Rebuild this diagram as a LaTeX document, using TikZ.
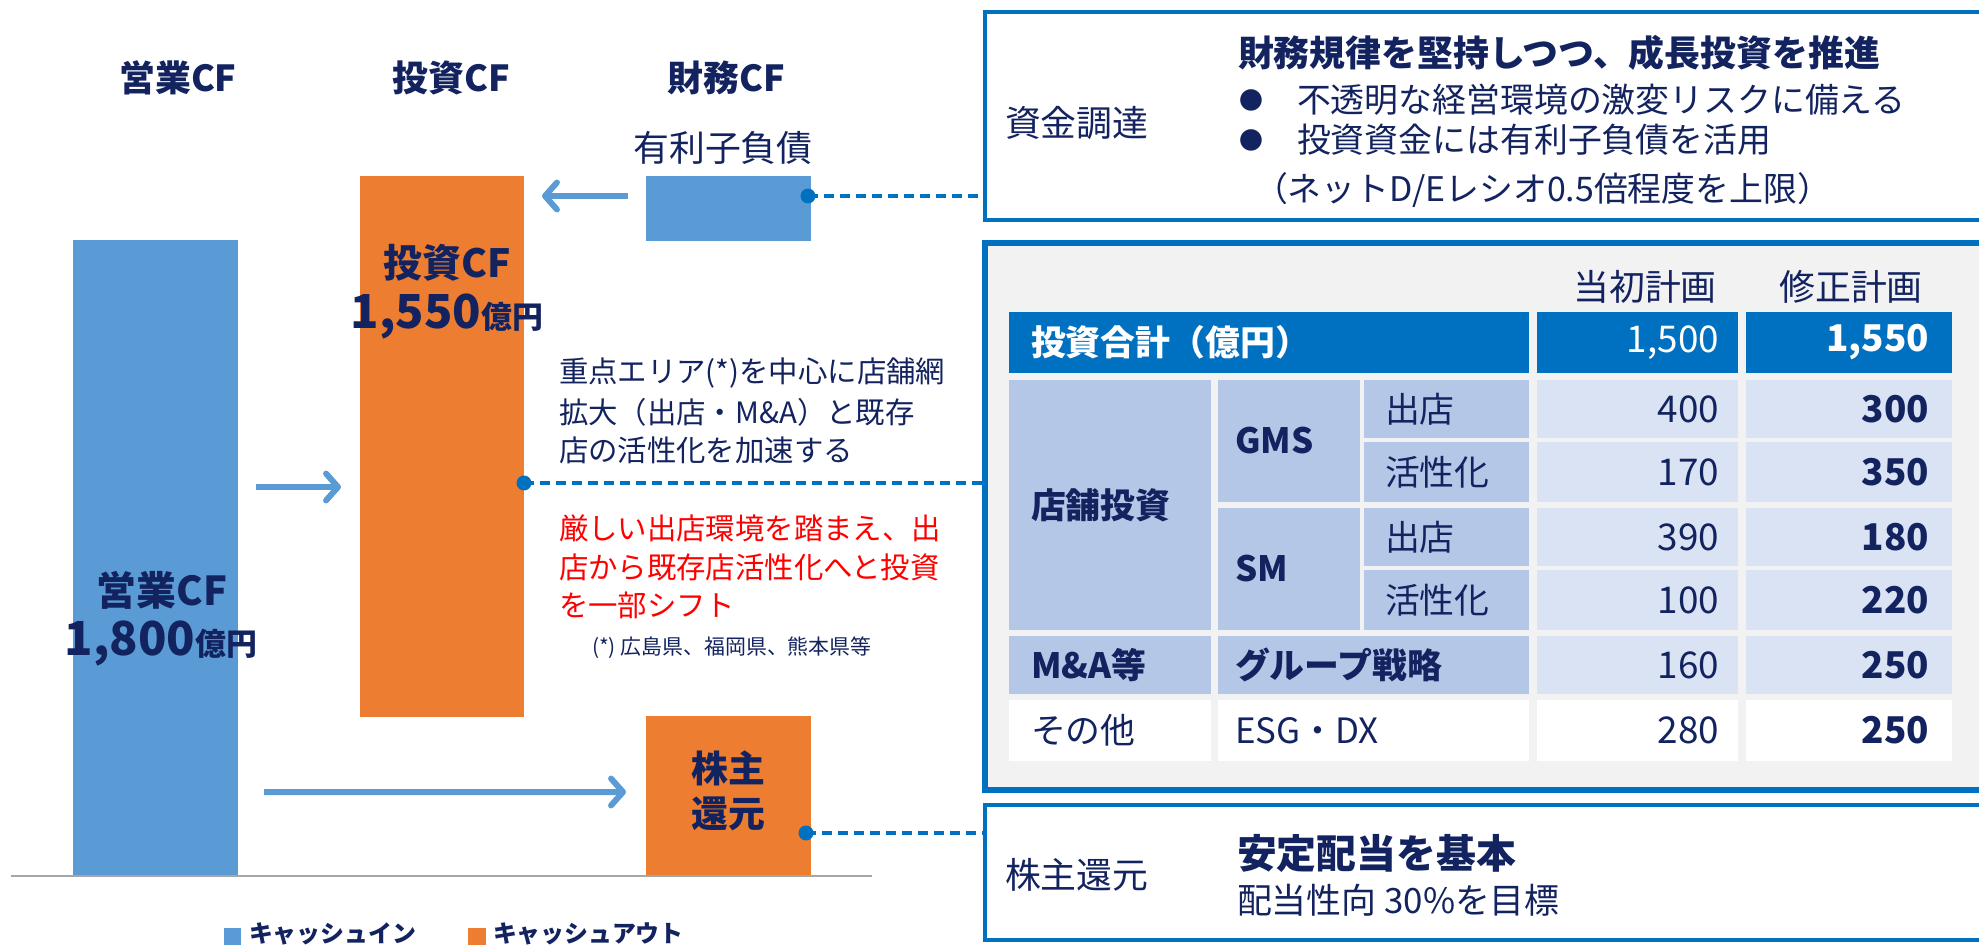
\documentclass[tikz,border=0pt]{standalone}
\usepackage{fontspec}
\setmainfont{Noto Sans CJK JP}
\usetikzlibrary{arrows.meta,calc}
\definecolor{barblue}{HTML}{5B9BD5}
\definecolor{barorange}{HTML}{ED7D31}
\definecolor{navy}{HTML}{13235F}
\definecolor{linkblue}{HTML}{0070C0}
\definecolor{cellA}{HTML}{B4C7E7}
\definecolor{cellV}{HTML}{DAE3F3}
\definecolor{bgray}{HTML}{F2F2F2}
\definecolor{axisgray}{HTML}{A6A6A6}
\definecolor{alert}{HTML}{FF0000}
\newcommand\fsz[1]{\fontsize{#1}{#1}\selectfont}
\begin{document}
\begin{tikzpicture}[x=1bp,y=-1bp,
  every node/.style={inner sep=0pt,outer sep=0pt,text=navy},
  bar/.style={draw=none,anchor=north west,minimum width=165bp},
  flow/.style={draw=barblue,line width=6pt,-{Straight Barb[length=12pt,width=27pt,round]}},
  link/.style={draw=linkblue,line width=4.2pt,dash pattern=on 10bp off 6bp},
  panel/.style={draw=linkblue,line width=4pt,anchor=north west,minimum width=1010bp},
  hdr/.style={font=\fsz{36}\bfseries},
  txt/.style={anchor=west},
  val/.style={anchor=east,font=\fsz{37}},
  valb/.style={anchor=east,font=\fsz{37}\bfseries},
  tl/.style={anchor=west,font=\fsz{35}},
  tlb/.style={anchor=west,font=\fsz{35}\bfseries}]
\useasboundingbox (0,0) rectangle (1979,945);
\clip (0,0) rectangle (1979,945);
\fill[white] (0,0) rectangle (1979,945);

% column headers
\node[hdr] (hop) at (178,78) {営業CF};
\node[hdr] (hinv) at (451,78) {投資CF};
\node[hdr] (hfin) at (726,78) {財務CF};
\node[font=\fsz{36}] (debtlbl) at (723,148) {有利子負債};

% bars
\node[bar,fill=barblue,minimum height=636bp] (op) at (73,240) {};
\node[bar,fill=barorange,minimum width=164bp,minimum height=541bp] (inv) at (360,176) {};
\node[bar,fill=barblue,minimum height=65bp] (debt) at (646,176) {};
\node[bar,fill=barorange,minimum height=160bp] (ret) at (646,716) {};
\draw[axisgray,line width=2.5pt] (11,876) -- (872,876);

% bar texts
\node[font=\fsz{39}\bfseries] (invt) at (447,263) {投資CF};
\node[font=\bfseries] (invv) at (447,316) {{\fsz{47}1,550}{\fsz{31}億円}};
\node[font=\fsz{40}\bfseries] (opt) at (162,590) {営業CF};
\node[font=\bfseries] (opv) at (161,643) {{\fsz{47}1,800}{\fsz{31}億円}};
\node[font=\fontsize{37}{45}\selectfont\bfseries,align=center] (rett) at (728,791) {株主\\還元};

% arrows
\draw[flow] ($(debt.north west)+(-18,20)$) -- ($(inv.north east)+(18,20)$);
\draw[flow] ($(op.north east)+(18,247)$) -- ($(inv.north west)+(-19,311)$);
\draw[flow] ($(op.south east)+(26,-84)$) -- ($(ret.west)+(-20,-4)$);

% middle texts
\node[txt,font=\fsz{29.5}] (m1) at (559,373) {重点エリア(*)を中心に店舗網};
\node[txt,font=\fsz{29.5}] (m2) at (559,412) {拡大（出店・M\&A）と既存};
\node[txt,font=\fsz{29.5}] (m3) at (559,450) {店の活性化を加速する};
\node[txt,font=\fsz{29.5},text=alert] (r1) at (559,528) {厳しい出店環境を踏まえ、出};
\node[txt,font=\fsz{29.5},text=alert] (r2) at (559,567) {店から既存店活性化へと投資};
\node[txt,font=\fsz{29.5},text=alert] (r3) at (559,605) {を一部シフト};
\node[txt,font=\fsz{21}] (note) at (592,648) {(*) 広島県、福岡県、熊本県等};

% legend
\fill[barblue] (224,928) rectangle (241,946);
\node[anchor=base west,font=\fsz{24}\bfseries] (lgin) at (249,942) {キャッシュイン};
\fill[barorange] (468,928) rectangle (486,946);
\node[anchor=base west,font=\fsz{24}\bfseries] (lgout) at (493,942) {キャッシュアウト};

% right panels
\node[panel,minimum height=208bp] (fund) at (985,12) {};
\node[panel,fill=bgray,line width=5.5pt,minimum height=547bp] (plan) at (985,243) {};
\node[panel,minimum height=135bp] (share) at (985,805) {};

% dashed links
\coordinate (d1) at ($(debt.north east)+(-3,20)$);
\coordinate (d2) at ($(inv.north east)+(0,307)$);
\coordinate (d3) at ($(ret.north east)+(-5,117)$);
\draw[link] (d1) -- (d1 -| fund.west);
\draw[link] (d2) -- (d2 -| plan.west);
\draw[link] (d3) -- (d3 -| share.west);
\fill[linkblue] (d1) circle[radius=7.5pt];
\fill[linkblue] (d2) circle[radius=7.5pt];
\fill[linkblue] (d3) circle[radius=7.5pt];

% funding panel
\node[txt,font=\fsz{36}] (fl) at (1005,123) {資金調達};
\node[txt,font=\fsz{36}\bfseries] (ft) at (1238,53) {財務規律を堅持しつつ、成長投資を推進};
\node[font=\fsz{24}] (b1) at (1251,100) {●};
\node[txt,font=\fsz{34}] (f1) at (1297,100) {不透明な経営環境の激変リスクに備える};
\node[font=\fsz{24}] (b2) at (1251,140) {●};
\node[txt,font=\fsz{34}] (f2) at (1297,140) {投資資金には有利子負債を活用};
\node[txt,font=\fsz{34}] (f3) at (1254,190) {（ネットD/Eレシオ0.5倍程度を上限）};

% table
\node[font=\fsz{36}] (c1) at (1645,287) {当初計画};
\node[font=\fsz{36}] (c2) at (1851,287) {修正計画};
\fill[linkblue] (1009,312) rectangle (1529,373);
\fill[linkblue] (1537,312) rectangle (1738,373);
\fill[linkblue] (1746,312) rectangle (1952,373);
\fill[cellA] (1009,380) rectangle (1211,630);
\fill[cellA] (1218,380) rectangle (1360,502);
\fill[cellA] (1218,508) rectangle (1360,630);
\foreach \ya/\yb in {380/438,442/502,508/566,570/630}{
  \fill[cellA] (1364,\ya) rectangle (1529,\yb);
  \fill[cellV] (1537,\ya) rectangle (1738,\yb);
  \fill[cellV] (1746,\ya) rectangle (1952,\yb);
}
\fill[cellA] (1009,636) rectangle (1211,694);
\fill[cellA] (1218,636) rectangle (1529,694);
\fill[cellV] (1537,636) rectangle (1738,694);
\fill[cellV] (1746,636) rectangle (1952,694);
\fill[white] (1009,700) rectangle (1211,761);
\fill[white] (1218,700) rectangle (1529,761);
\fill[white] (1537,700) rectangle (1738,761);
\fill[white] (1746,700) rectangle (1952,761);

\node[tlb,text=white] (t0) at (1031,342.5) {投資合計（億円）};
\node[val,text=white] (t0d) at (1719,342.5) {1,500};
\node[valb,text=white] (t0e) at (1929,342.5) {1,550};
\node[tlb] (ta) at (1031,505) {店舗投資};
\node[tlb] (tg) at (1235,441) {GMS};
\node[tlb] (ts) at (1235,569) {SM};
\node[tl] (t1) at (1385,409) {出店};
\node[tl] (t2) at (1385,472) {活性化};
\node[tl] (t3) at (1385,537) {出店};
\node[tl] (t4) at (1385,600) {活性化};
\node[val] (t1d) at (1719,409) {400};
\node[val] (t2d) at (1719,472) {170};
\node[val] (t3d) at (1719,537) {390};
\node[val] (t4d) at (1719,600) {100};
\node[valb] (t1e) at (1929,409) {300};
\node[valb] (t2e) at (1929,472) {350};
\node[valb] (t3e) at (1929,537) {180};
\node[valb] (t4e) at (1929,600) {220};
\node[tlb] (t5) at (1031,665) {M\&A等};
\node[tlb] (t5b) at (1235,665) {グループ戦略};
\node[val] (t5d) at (1719,665) {160};
\node[valb] (t5e) at (1929,665) {250};
\node[tl] (t6) at (1031,730.5) {その他};
\node[tl] (t6b) at (1235,730.5) {ESG・DX};
\node[val] (t6d) at (1719,730.5) {280};
\node[valb] (t6e) at (1929,730.5) {250};

% shareholder panel
\node[txt,font=\fsz{36}] (sl) at (1005,875) {株主還元};
\node[txt,font=\fsz{40}\bfseries] (st) at (1237,853) {安定配当を基本};
\node[txt,font=\fsz{35}] (sv) at (1237,900) {配当性向 30\%を目標};
\end{tikzpicture}
\end{document}
